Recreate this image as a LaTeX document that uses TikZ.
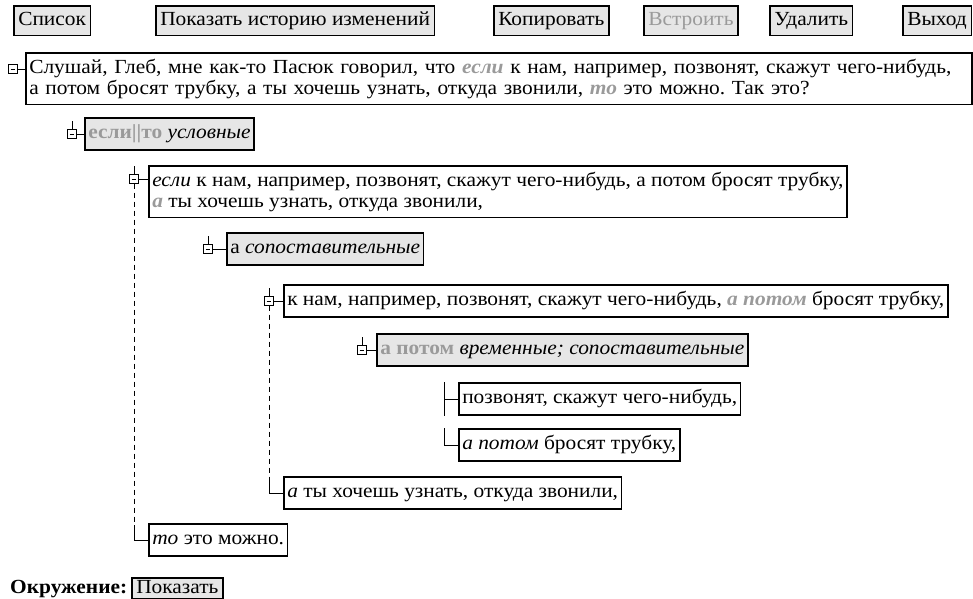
\documentclass[tikz,border=0pt]{standalone}
\usepackage{fontspec}
\setmainfont{Liberation Serif}
\newfontfamily\uifont[FakeStretch=1.07]{Liberation Serif}
\definecolor{hl}{HTML}{9A9A9A}
\definecolor{bfill}{HTML}{E6E6E6}
\newcommand{\hlw}[1]{{\color{hl}\bfseries\itshape #1}}
\frenchspacing
\begin{document}
\begin{tikzpicture}[x=1pt,y=-1pt,font=\uifont\fontsize{20}{21}\selectfont\frenchspacing,
  box/.style={draw=black,line width=1.5pt,inner xsep=3.5pt,inner ysep=6pt,anchor=north west,align=left},
  sbox/.style={box,text height=13.5pt,text depth=4.5pt,inner ysep=7.2pt},
  gbox/.style={sbox,fill=bfill},
  btn/.style={draw=black,line width=1.5pt,fill=bfill,inner xsep=4.5pt,inner ysep=5.5pt,text height=14pt,text depth=4.5pt,anchor=north west},
  tog/.style={draw=black,line width=0.9pt,minimum size=8.5pt,inner sep=0pt,fill=white},
  con/.style={line width=0.9pt},
  dcon/.style={line width=0.9pt,dash pattern=on 5pt off 4pt}]
\clip (0,0) rectangle (973,598);
% buttons
\node[btn] (b1) at (13,5) {Список};
\node[btn] (b2) at (155,5) {Показать историю изменений};
\node[btn] (b3) at (493,5) {Копировать};
\node[btn,text=hl] (b4) at (643,5) {Встроить};
\node[btn] (b5) at (769,5) {Удалить};
\node[btn] (b6) at (902,5) {Выход};
% main
\node[box,text width=939pt] (m) at (25,52) {Слушай, Глеб, мне как-то Пасюк говорил, что \hlw{если} к нам, например, позвонят, скажут чего-нибудь,\\а потом бросят трубку, а ты хочешь узнать, откуда звонили, \hlw{то} это можно. Так это?};
\node[tog] (t0) at (13,69) {};
% level 1
\node[gbox] (n1) at (84,117) {\textbf{\color{hl}если||то} \textit{условные}};
\node[tog] (t1) at (72,0 |- n1.west) {};
% level 2
\node[box] (n2) at (148,165) {\textit{если} к нам, например, позвонят, скажут чего-нибудь, а потом бросят трубку,\\\hlw{а} ты хочешь узнать, откуда звонили,};
\node[tog] (t2) at (134,179) {};
% level 3
\node[gbox] (n3) at (226,232) {а \textit{сопоставительные}};
\node[tog] (t3) at (208,0 |- n3.west) {};
% level 4
\node[sbox] (n4) at (283,284) {к нам, например, позвонят, скажут чего-нибудь, \hlw{а потом} бросят трубку,};
\node[tog] (t4) at (269,0 |- n4.west) {};
% level 5
\node[gbox] (n5) at (376,333) {\textbf{\color{hl}а потом} \textit{временные; сопоставительные}};
\node[tog] (t5) at (362,0 |- n5.west) {};
% level 6
\node[sbox] (n6a) at (458,382) {позвонят, скажут чего-нибудь,};
\node[sbox] (n6b) at (458,428) {\textit{а потом} бросят трубку,};
\coordinate (v6) at (444,0);
% level 4 last
\node[sbox] (n4b) at (283,476) {\textit{а} ты хочешь узнать, откуда звонили,};
% level 2 last
\node[sbox] (n2b) at (148,523) {\textit{то} это можно.};
% bottom
\node[btn,inner ysep=1.5pt,text depth=4pt] (bs) at (131,577) {Показать};
\node[anchor=base west,inner xsep=0pt,font=\uifont\fontsize{20}{21}\selectfont\bfseries] (env) at (10,0 |- bs.base) {Окружение:};
% toggle minus signs
\foreach \t in {t0,t1,t2,t3,t4,t5}{
  \draw[con] ([xshift=-2.3pt]\t.center) -- ([xshift=2.3pt]\t.center);
}
% stems above toggles
\foreach \t in {t1,t2,t3,t4,t5}{
  \draw[con] (\t.north) -- ++(0,-8);
}
% horizontal connectors
\draw[con] (t0.east) -- (t0.east -| m.west);
\draw[con] (t1.east) -- (t1.east -| n1.west);
\draw[con] (t2.east) -- (t2.east -| n2.west);
\draw[con] (t3.east) -- (t3.east -| n3.west);
\draw[con] (t4.east) -- (t4.east -| n4.west);
\draw[con] (t5.east) -- (t5.east -| n5.west);
% dashed verticals
\draw[dcon] (t2.south) -- ([yshift=-2pt]t2.south |- n2b.north);
\draw[con] ([yshift=-2pt]t2.south |- n2b.north) |- (n2b.west);
\draw[dcon] (t4.south) -- ([yshift=-2pt]t4.south |- n4b.north);
\draw[con] ([yshift=-2pt]t4.south |- n4b.north) |- (n4b.west);
% leaf group
\draw[con] (v6 |- n6a.north) -- (v6 |- n6a.south);
\draw[con] (v6 |- n6a.west) -- (n6a.west);
\draw[con] (v6 |- n6b.north) |- (n6b.west);
\end{tikzpicture}
\end{document}
